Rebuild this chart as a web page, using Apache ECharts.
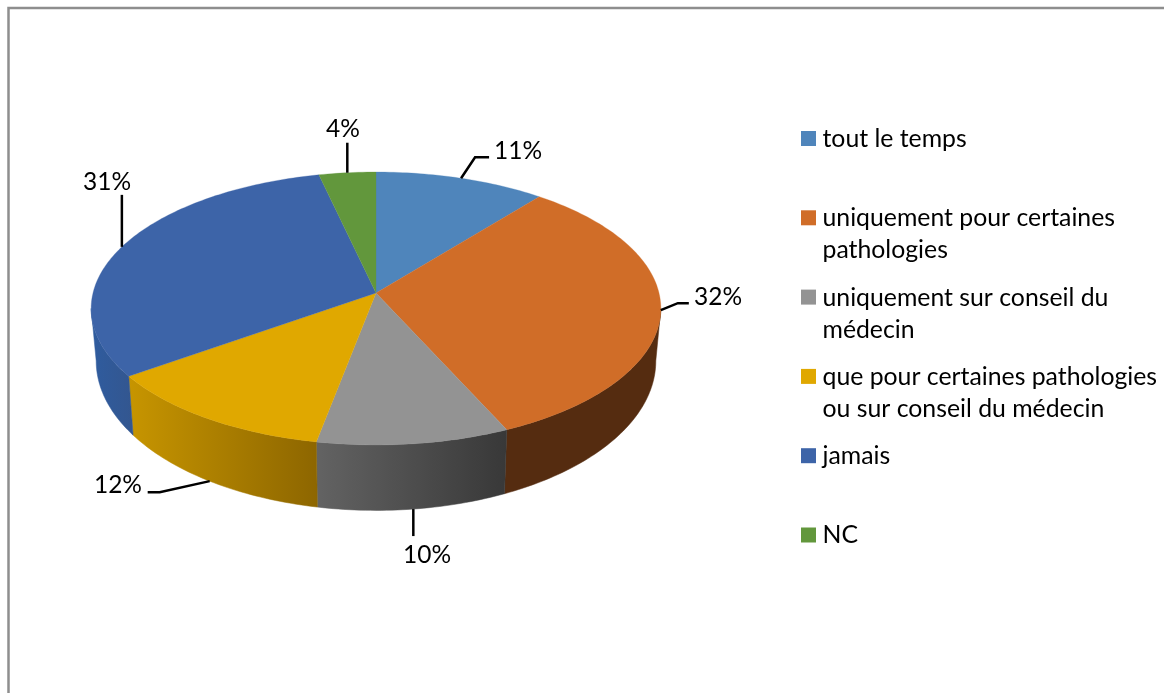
<!DOCTYPE html>
<html>
<head>
<meta charset="utf-8">
<title>Pie</title>
<style>
  html, body { margin: 0; padding: 0; background: #fff; }
  #chart { width: 1164px; height: 693px; }
</style>
<script src="https://cdn.jsdelivr.net/npm/echarts@6/dist/echarts.min.js"></script>
</head>
<body>
<div id="chart"></div>
<script>
// values, the labels show them rounded
const categories = [
  'tout le temps',
  'uniquement pour certaines\npathologies',
  'uniquement sur conseil du\nmédecin',
  'que pour certaines pathologies\nou sur conseil du médecin',
  'jamais',
  'NC'
];
const shares = [10.8, 32.4, 9.8, 12.2, 31.2, 3.6];
const topColors = ['#4f85bb', '#d06d28', '#939393', '#e0a800', '#3d64a8', '#62973c'];
const wallColors = [
  ['#3a628a', '#3a628a'],
  ['#552c10', '#552c10'],
  ['#636363', '#383838'],
  ['#c79500', '#8d6600'],
  ['#2f5c9f', '#33568f'],
  ['#47702b', '#47702b']
];

// perspective of the disc: centre, radii, foreshortening
const FONT = '"Lato", "Open Sans", sans-serif';
const TILT = 0.1136;
const rimTop = { cx: 376, cy: 293, rx: 283, ry: 134.7 };
const rimBottom = { cx: 376, cy: 344, rx: 278, ry: 147.5 };

// leader elbow and end, relative to the anchor on the rim, then text position
const leaders = [
  { elbow: [14, -21], end: [28, -21], text: [494, 151], align: 'left' },
  { elbow: [17, -7], end: [28, -7], text: [694, 297], align: 'left' },
  { elbow: [0, 27], end: [0, 27], text: [427, 555], align: 'center' },
  { elbow: [-50, 11], end: [-62, 11], text: [142, 485], align: 'right' },
  { elbow: [0, -52], end: [0, -52], text: [107, 182], align: 'center' },
  { elbow: [0, -30], end: [0, -30], text: [343, 129], align: 'center' }
];

const LEGEND_X = 801;
const LEGEND_Y = 131;
const LEGEND_STEP = 79.3;

const total = shares.reduce((a, b) => a + b, 0);
const starts = [];
shares.reduce((acc, v, i) => { starts[i] = acc; return acc + v; }, 0);
const toDeg = (v) => v / total * 360;

// deg is clockwise from the back of the disc
const project = (rim, deg) => {
  const r = deg * Math.PI / 180;
  const x = Math.sin(r);
  const y = -Math.cos(r);
  const w = 1 - TILT * y;
  return [rim.cx + rim.rx * x / w, rim.cy + rim.ry * y / w];
};

const arc = (rim, from, to) => {
  const pts = [];
  const n = Math.max(2, Math.ceil(Math.abs(to - from)));
  for (let i = 0; i <= n; i++) pts.push(project(rim, from + (to - from) * i / n));
  return pts;
};

// only the front of the wall shows, it ends where the rim turns away
const frontFrom = 90 + Math.asin(TILT) * 180 / Math.PI;
const frontTo = 360 - frontFrom;

const renderWall = (params, api) => {
  const i = api.value(0);
  const from = Math.max(toDeg(starts[i]), frontFrom);
  const to = Math.min(toDeg(starts[i] + shares[i]), frontTo);
  if (to <= from) return { type: 'group', children: [] };
  const grad = new echarts.graphic.LinearGradient(0, 0, 1, 0, [
    { offset: 0, color: wallColors[i][0] },
    { offset: 1, color: wallColors[i][1] }
  ]);
  return {
    type: 'polygon',
    shape: { points: arc(rimTop, from, to).concat(arc(rimBottom, to, from)) },
    style: { fill: grad, stroke: grad, lineWidth: 0.5 }
  };
};

const renderTop = (params, api) => {
  const i = api.value(0);
  const from = toDeg(starts[i]);
  const to = toDeg(starts[i] + shares[i]);
  return {
    type: 'polygon',
    shape: { points: [[rimTop.cx, rimTop.cy]].concat(arc(rimTop, from, to)) },
    style: { fill: topColors[i], stroke: topColors[i], lineWidth: 0.3 }
  };
};

const renderLabel = (params, api) => {
  const i = api.value(0);
  const mid = toDeg(starts[i] + shares[i] / 2);
  const onWall = mid > frontFrom + 45 && mid < frontTo - 20;
  const a = project(onWall ? rimBottom : rimTop, mid);
  const l = leaders[i];
  return {
    type: 'group',
    children: [
      {
        type: 'polyline',
        shape: {
          points: [a, [a[0] + l.elbow[0], a[1] + l.elbow[1]], [a[0] + l.end[0], a[1] + l.end[1]]]
        },
        style: { stroke: '#000', lineWidth: 2.5, fill: null }
      },
      {
        type: 'text',
        style: {
          text: Math.round(shares[i]) + '%',
          x: l.text[0],
          y: l.text[1],
          align: l.align,
          verticalAlign: 'middle',
          font: '24.5px ' + FONT,
          fill: '#000'
        }
      }
    ]
  };
};

const legendItems = [];
categories.forEach((name, i) => {
  const y = LEGEND_Y + LEGEND_STEP * i;
  legendItems.push({
    type: 'rect',
    shape: { x: LEGEND_X, y: y, width: 15, height: 15 },
    style: { fill: topColors[i] }
  });
  legendItems.push({
    type: 'text',
    style: {
      text: name,
      x: LEGEND_X + 21.5,
      y: y - 8,
      font: '24.8px ' + FONT,
      lineHeight: 32,
      fill: '#000'
    }
  });
});

const rows = shares.map((v, i) => [i, v]);
const myChart = echarts.init(document.getElementById('chart'), null, { renderer: 'canvas' });
myChart.setOption({
  animation: false,
  backgroundColor: '#fff',
  graphic: [
    {
      type: 'polyline',
      shape: { points: [[8.5, 693], [8.5, 8], [1164, 8]] },
      style: { stroke: '#8e8e8e', lineWidth: 2.5, fill: null }
    }
  ].concat(legendItems),
  series: [
    { type: 'custom', name: 'wall', coordinateSystem: 'none', silent: true, data: rows, renderItem: renderWall, z: 1 },
    { type: 'custom', name: 'top', coordinateSystem: 'none', silent: true, data: rows, renderItem: renderTop, z: 2 },
    { type: 'custom', name: 'labels', coordinateSystem: 'none', silent: true, data: rows, renderItem: renderLabel, z: 3 }
  ]
});
</script>
</body>
</html>
